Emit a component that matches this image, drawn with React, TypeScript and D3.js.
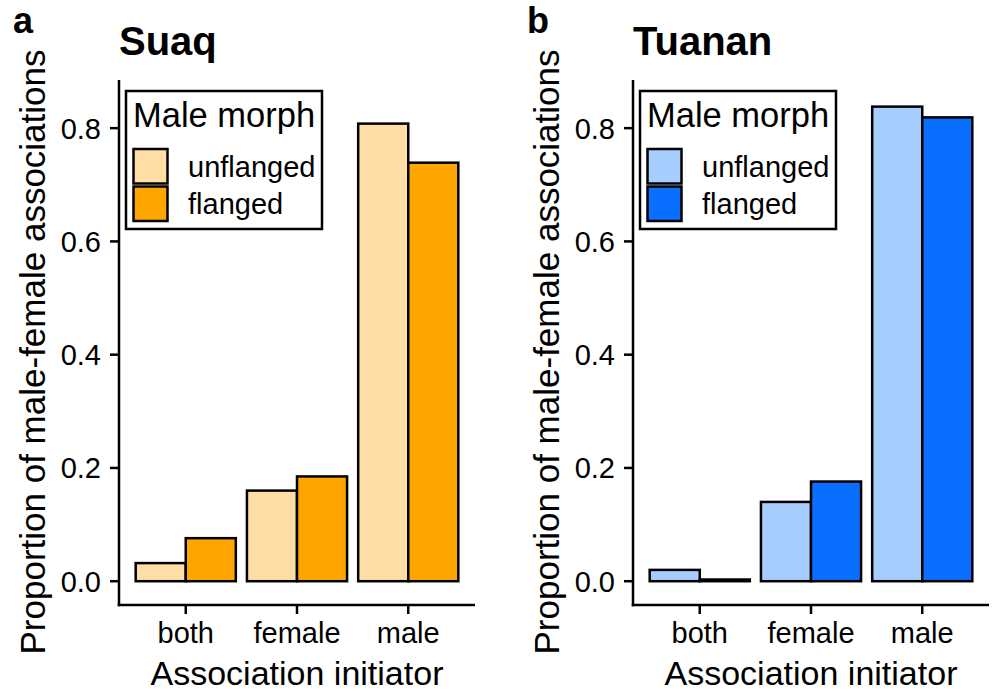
import React from "react";
import * as d3 from "d3";

const categories = ["both", "female", "male"];
const morphs = ["unflanged", "flanged"];
const suaqUnflanged = [0.032, 0.16, 0.808];
const suaqFlanged = [0.076, 0.185, 0.739];
const tuananUnflanged = [0.02, 0.14, 0.838];
const tuananFlanged = [0.003, 0.176, 0.819];
const yTicks = [0.0, 0.2, 0.4, 0.6, 0.8];

const panels = [
  { tag: "a", title: "Suaq", left: 119, values: [suaqUnflanged, suaqFlanged], colors: ["#FFDEA5", "#FFA500"] },
  { tag: "b", title: "Tuanan", left: 633, values: [tuananUnflanged, tuananFlanged], colors: ["#A7CDFF", "#0A6FFF"] },
];

const FONT = "'Liberation Sans', Arial, sans-serif";
const W = 992;
const H = 691;
const top = 80;
const bottom = 605;
const panelW = 356;

function Panel({ p }: { p: (typeof panels)[number] }) {
  const y = d3.scaleLinear().domain([-0.042, 0.885]).range([bottom, top]);
  const x = d3.scaleLinear().domain([0.4, 3.6]).range([p.left, p.left + panelW]);
  const bw = 0.45;
  return (
    <g>
      <text x={p.left - 106} y={33} fontFamily={FONT} fontWeight="bold" fontSize={36}>{p.tag}</text>
      <text x={p.left} y={55} fontFamily={FONT} fontWeight="bold" fontSize={40}>{p.title}</text>
      {p.values.map((vals, s) =>
        vals.map((v, i) => {
          const x0 = s === 0 ? x(i + 1 - bw) : x(i + 1);
          const x1 = s === 0 ? x(i + 1) : x(i + 1 + bw);
          return (
            <rect key={`${s}-${i}`} x={x0} y={y(v)} width={x1 - x0} height={y(0) - y(v)}
              fill={p.colors[s]} stroke="#000" strokeWidth={2.5} />
          );
        })
      )}
      <line x1={p.left} x2={p.left} y1={top} y2={bottom + 1.25} stroke="#000" strokeWidth={2.5} />
      <line x1={p.left - 1.25} x2={p.left + panelW} y1={bottom} y2={bottom} stroke="#000" strokeWidth={2.5} />
      {yTicks.map((t) => (
        <g key={t}>
          <line x1={p.left - 9} x2={p.left} y1={y(t)} y2={y(t)} stroke="#000" strokeWidth={2.5} />
          <text x={p.left - 18} y={y(t)} dy="0.36em" textAnchor="end" fontFamily={FONT} fontSize={29} fill="#000">{t.toFixed(1)}</text>
        </g>
      ))}
      {categories.map((c, i) => (
        <g key={c}>
          <line x1={x(i + 1)} x2={x(i + 1)} y1={bottom} y2={bottom + 9} stroke="#000" strokeWidth={2.5} />
          <text x={x(i + 1)} y={643} textAnchor="middle" fontFamily={FONT} fontSize={29} fill="#000">{c}</text>
        </g>
      ))}
      <text x={p.left + panelW / 2} y={685} textAnchor="middle" fontFamily={FONT} fontSize={34}>Association initiator</text>
      <text transform={`translate(${p.left - 74},${352}) rotate(-90)`} textAnchor="middle" fontFamily={FONT} fontSize={35}>
        Proportion of male-female associations
      </text>
      <g transform={`translate(${p.left + 7},${91})`}>
        <rect x={0} y={0} width={196} height={138} fill="#fff" stroke="#000" strokeWidth={2.5} />
        <text x={7} y={36} fontFamily={FONT} fontSize={34.5}>Male morph</text>
        {morphs.map((m, k) => (
          <g key={m}>
            <rect x={7.5} y={58 + k * 37.5} width={34} height={34.5} fill={p.colors[k]} stroke="#000" strokeWidth={2.5} />
            <text x={62} y={86 + k * 36.5} fontFamily={FONT} fontSize={29}>{m}</text>
          </g>
        ))}
      </g>
    </g>
  );
}

export default function App() {
  return (
    <svg width={W} height={H} style={{ display: "block", position: "absolute", left: 0, top: 0 }}>
      <rect width={W} height={H} fill="#fff" />
      {panels.map((p) => (
        <Panel key={p.tag} p={p} />
      ))}
    </svg>
  );
}
